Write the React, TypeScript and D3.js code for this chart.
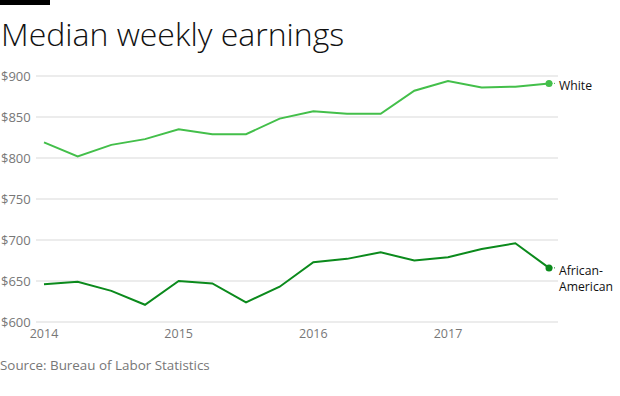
import React, { useEffect, useRef } from 'react';
import * as d3 from 'd3';

// quarterly points, 2014 Q1 .. 2017 Q4
const quarters = [
  2014, 2014.25, 2014.5, 2014.75,
  2015, 2015.25, 2015.5, 2015.75,
  2016, 2016.25, 2016.5, 2016.75,
  2017, 2017.25, 2017.5, 2017.75,
];
const white = [819, 802, 816, 823, 835, 829, 829, 848, 857, 854, 854, 882, 894, 886, 887, 891];
const africanAmerican = [646, 649, 638, 621, 650, 647, 624, 643, 673, 677, 685, 675, 679, 689, 696, 666];
const yTicks = [600, 650, 700, 750, 800, 850, 900];
const xTicks = [2014, 2015, 2016, 2017];

const FONT = '"Open Sans", Lato, sans-serif';

export default function App() {
  const ref = useRef<SVGSVGElement>(null);

  useEffect(() => {
    const width = 620;
    const height = 396;
    const svg = d3.select(ref.current);
    svg.selectAll('*').remove();
    svg.attr('width', width).attr('height', height);

    const x = d3.scaleLinear().domain([2014, 2017.75]).range([44, 549]);
    const y = d3.scaleLinear().domain([600, 900]).range([322, 76]);

    // top bar + title
    svg.append('rect').attr('x', 0).attr('y', 0).attr('width', 50).attr('height', 5).attr('fill', '#000');
    svg.append('text')
      .attr('x', 1).attr('y', 46)
      .attr('font-family', FONT).attr('font-weight', 300)
      .attr('font-size', 32).attr('fill', '#111')
      .text('Median weekly earnings');

    // grid + y labels
    const grid = svg.append('g');
    grid.selectAll('line').data(yTicks).enter().append('line')
      .attr('x1', 36).attr('x2', 558)
      .attr('y1', d => y(d)).attr('y2', d => y(d))
      .attr('stroke', '#e6e6e6').attr('stroke-width', 1.5);
    grid.selectAll('text').data(yTicks).enter().append('text')
      .attr('x', 1).attr('y', d => y(d) + 4.5)
      .attr('font-family', FONT).attr('font-size', 13).attr('fill', '#777')
      .text(d => `$${d}`);

    // x labels
    svg.append('g').selectAll('text').data(xTicks).enter().append('text')
      .attr('x', d => x(d)).attr('y', 338)
      .attr('text-anchor', 'middle')
      .attr('font-family', FONT).attr('font-size', 12.5).attr('fill', '#777')
      .text(d => String(d));

    const series = [
      { values: white, color: '#43bf4a', label: ['White'] },
      { values: africanAmerican, color: '#0b8a1c', label: ['African-', 'American'] },
    ];
    const line = d3.line<number>()
      .x((_, i) => x(quarters[i]))
      .y(d => y(d));

    series.forEach(s => {
      svg.append('path')
        .datum(s.values)
        .attr('d', line)
        .attr('fill', 'none')
        .attr('stroke', s.color)
        .attr('stroke-width', 2);
      const last = s.values[s.values.length - 1];
      const lx = x(quarters[quarters.length - 1]);
      const ly = y(last);
      svg.append('line')
        .attr('x1', lx).attr('x2', lx + 7).attr('y1', ly).attr('y2', ly)
        .attr('stroke', s.color).attr('stroke-width', 1).attr('stroke-dasharray', '1,1.5');
      svg.append('circle').attr('cx', lx).attr('cy', ly).attr('r', 3.5).attr('fill', s.color);
      s.label.forEach((l, i) => {
        svg.append('text')
          .attr('x', lx + 10).attr('y', ly + 7 + i * 16.5)
          .attr('font-family', FONT).attr('font-size', 12.2).attr('fill', '#111')
          .text(l);
      });
    });

    // source
    svg.append('text')
      .attr('x', 0).attr('y', 370)
      .attr('font-family', FONT).attr('font-size', 13.4).attr('fill', '#777')
      .text('Source: Bureau of Labor Statistics');
  }, []);

  return (
    <div style={{ position: 'absolute', left: 0, top: 0 }}>
      <svg ref={ref}></svg>
    </div>
  );
}
